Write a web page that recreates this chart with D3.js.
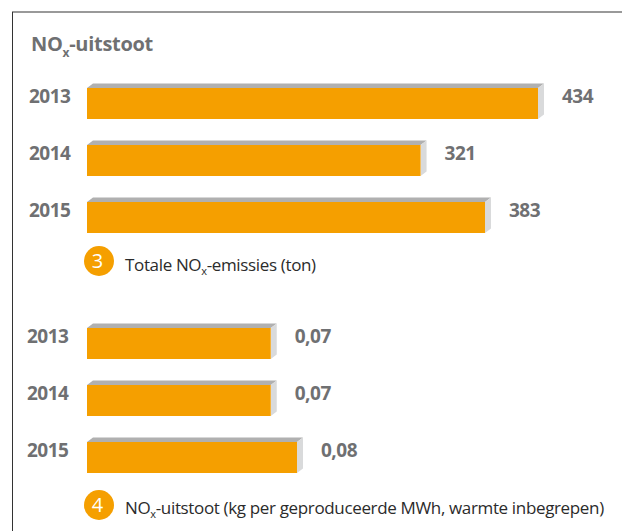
<!DOCTYPE html>
<html>
<head>
<meta charset="utf-8">
<script src="https://d3js.org/d3.v7.min.js"></script>
<style>
html, body { margin: 0; padding: 0; background: #fff; }
svg { display: block; }
text { font-family: "Open Sans", sans-serif; }
.year, .val { font-size: 19px; font-weight: 700; fill: #6f7072; letter-spacing: -0.5px; }
.title { font-size: 20px; font-weight: 700; fill: #6f7072; letter-spacing: -0.3px; }
.cap { font-size: 17px; fill: #2b2b2b; letter-spacing: -0.35px; }
.num { font-size: 20px; fill: #fff; text-anchor: middle; }
</style>
</head>
<body>
<svg width="622" height="531"></svg>
<script>
var years = ['2013', '2014', '2015'];
var totalNox = [434, 321, 383];
var noxPerMwh = [0.07, 0.07, 0.08];
var totalLabels = ['434', '321', '383'];
var mwhLabels = ['0,07', '0,07', '0,08'];

var svg = d3.select('svg');
var orange = '#f59f00';
var depthX = 6, depthY = 4.5;

// frame: only top and left sides are visible in the crop
svg.append('line').attr('x1', 12).attr('x2', 622).attr('y1', 12).attr('y2', 12)
    .attr('stroke', '#777').attr('stroke-width', 1.5);
svg.append('line').attr('x1', 12.5).attr('x2', 12.5).attr('y1', 12).attr('y2', 531)
    .attr('stroke', '#333').attr('stroke-width', 1);

// text with the small x of NOx
function noxText(x, y, cls, before, after, dy, subSize) {
    var t = svg.append('text').attr('class', cls).attr('x', x).attr('y', y);
    t.append('tspan').text(before + 'NO');
    t.append('tspan').attr('dy', dy).attr('font-size', subSize).text('x');
    t.append('tspan').attr('dy', -dy).text(after);
}

function barPanel(values, labels, xMax, xRange, yRange, yearX, labelGap) {
    var x = d3.scaleLinear().domain([0, xMax]).range(xRange);
    var y = d3.scaleBand().domain(years).range(yRange).paddingInner(26 / 57);
    var rows = years.map(function(d, i) { return {year: d, value: values[i], label: labels[i]}; });

    var g = svg.append('g').selectAll('g')
        .data(rows).enter()
        .append('g')
        .attr('transform', function(d) { return 'translate(0,' + y(d.year) + ')'; });

    var h = y.bandwidth();
    var x0 = x(0);

    // top face
    g.append('path')
        .attr('d', function(d) {
            var x1 = x(d.value);
            return 'M' + x0 + ',0L' + (x0 + depthX) + ',' + (-depthY) + 'L' + (x1 + depthX) + ',' + (-depthY) + 'L' + x1 + ',0Z';
        })
        .attr('fill', '#b0b0b0');

    // side face
    g.append('path')
        .attr('d', function(d) {
            var x1 = x(d.value);
            return 'M' + x1 + ',0L' + (x1 + depthX) + ',' + (-depthY) + 'L' + (x1 + depthX) + ',' + (h - depthY) + 'L' + x1 + ',' + h + 'Z';
        })
        .attr('fill', '#d9dadb');

    g.append('rect')
        .attr('x', x0)
        .attr('y', 0)
        .attr('width', function(d) { return x(d.value) - x0; })
        .attr('height', h)
        .attr('fill', orange);

    g.append('text')
        .attr('class', 'year')
        .attr('x', yearX)
        .attr('y', 15)
        .text(function(d) { return d.year; });

    g.append('text')
        .attr('class', 'val')
        .attr('x', function(d) { return x(d.value) + labelGap; })
        .attr('y', 15)
        .text(function(d) { return d.label; });
}

function badge(cy, n) {
    svg.append('circle').attr('cx', 99).attr('cy', cy).attr('r', 15).attr('fill', orange);
    svg.append('text').attr('class', 'num').attr('x', 97.5).attr('y', cy + 7).text(n);
}

noxText(31, 51, 'title', '', '-uitstoot', 6, 12);

barPanel(totalNox, totalLabels, 434, [87, 538], [88, 233], 29, 24);
badge(261, '3');
noxText(125, 271, 'cap', 'Totale ', '-emissies (ton)', 4, 11);

barPanel(noxPerMwh, mwhLabels, 0.08, [87, 297], [328, 473], 27, 24);
badge(505, '4');
noxText(125, 514, 'cap', '', '-uitstoot (kg per geproduceerde MWh, warmte inbegrepen)', 4, 11);
</script>
</body>
</html>
